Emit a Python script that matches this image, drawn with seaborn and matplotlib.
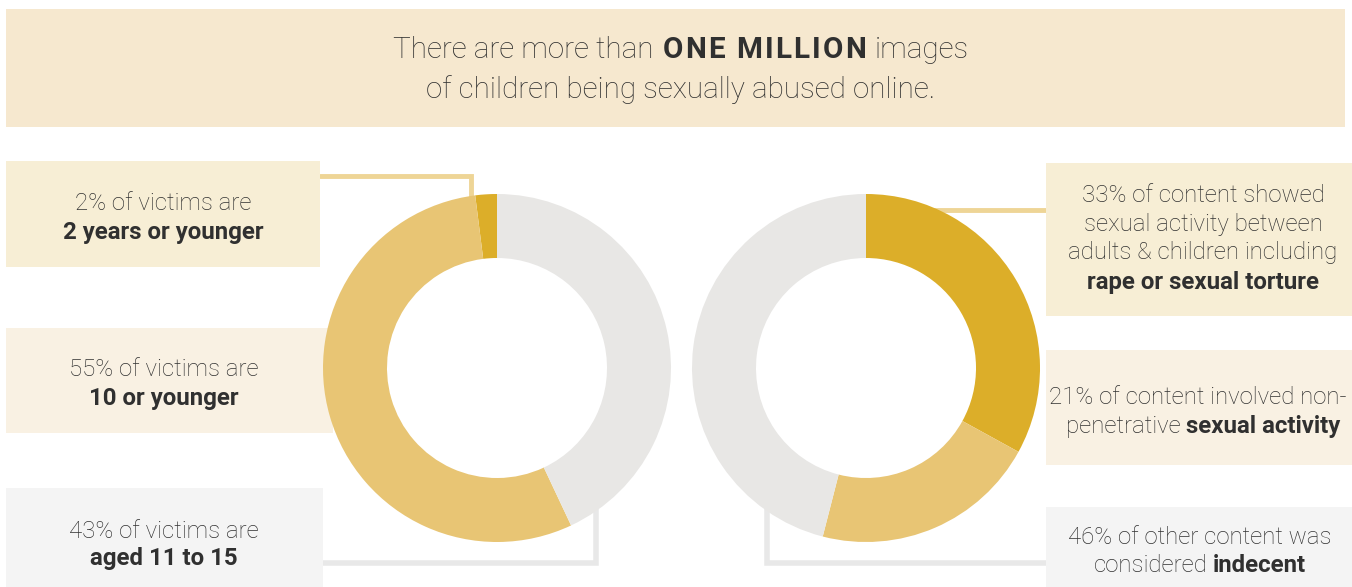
import matplotlib
matplotlib.use("Agg")
import matplotlib.pyplot as plt
import seaborn as sns
from matplotlib.patches import Rectangle

# ---- data ----
left_categories = ["2 years or younger", "10 or younger", "aged 11 to 15"]
left_values = [2, 55, 43]
right_categories = ["rape or sexual torture", "sexual activity", "indecent"]
right_values = [33, 21, 46]

sns.set_theme(style="white")
plt.rcParams['font.family'] = ['Roboto', 'DejaVu Sans']

DARK_GOLD = "#dcae29"
LIGHT_GOLD = "#e8c574"
GRAY = "#e8e7e5"
TXT = "#303030"
palette = sns.color_palette([DARK_GOLD, LIGHT_GOLD, GRAY])

W, H = 1352, 587
fig = plt.figure(figsize=(W / 100, H / 100), dpi=100)
bg = fig.add_axes([0, 0, 1, 1])
bg.set_xlim(0, W)
bg.set_ylim(H, 0)
bg.axis("off")

def rect(x0, y0, x1, y1, color):
    bg.add_patch(Rectangle((x0, y0), x1 - x0, y1 - y0, facecolor=color, edgecolor="none", zorder=1))

# banner and boxes
rect(6, 9, 1345, 127, "#f6e8cf")
rect(6, 161, 320, 267, "#f7eed5")
rect(6, 328, 333, 433, "#f9f1e3")
rect(6, 488, 323, 587, "#f4f4f4")
rect(1046, 163, 1352, 316, "#f7eed5")
rect(1046, 350, 1352, 465, "#f9f1e3")
rect(1046, 507, 1352, 587, "#f4f4f4")

# connectors
bg.plot([320, 471, 471], [176, 176, 215], color="#eed596", lw=3.5, zorder=0.5, solid_joinstyle="miter")
bg.plot([323, 596, 596], [563, 563, 500], color="#e8e8e8", lw=4, zorder=0.5, solid_joinstyle="miter")
bg.plot([900, 1046], [210, 210], color="#eed596", lw=3.5, zorder=0.5)
bg.plot([767, 767, 1046], [500, 563, 563], color="#e8e8e8", lw=4, zorder=0.5, solid_joinstyle="miter")

fig.canvas.draw()
renderer = fig.canvas.get_renderer()

def width_of(s, size, weight):
    t = bg.text(0, 0, s, fontsize=size, fontweight=weight)
    w = t.get_window_extent(renderer).width
    t.remove()
    return w

def seg_width(s, size, weight, track):
    if track == 0:
        return width_of(s, size, weight)
    return sum(width_of(c, size, weight) if c != " " else
               width_of("x x", size, weight) - width_of("xx", size, weight)
               for c in s) + track * (len(s) - 1)

def draw_seg(x, y, s, size, weight, track):
    if track == 0:
        bg.text(x, y, s, fontsize=size, fontweight=weight, color=TXT, ha="left", va="center", zorder=3)
        return
    sp = width_of("x x", size, weight) - width_of("xx", size, weight)
    for c in s:
        if c != " ":
            bg.text(x, y, c, fontsize=size, fontweight=weight, color=TXT, ha="left", va="center", zorder=3)
            x += width_of(c, size, weight) + track
        else:
            x += sp + track

def mixed_line(xc, y, segments, size, extra_gap=0):
    gap = width_of("x x", size, "light") - width_of("xx", size, "light") + extra_gap
    segs = [(s[0], s[1], s[2] if len(s) > 2 else 0) for s in segments]
    widths = [seg_width(s, size, wgt, tr) for s, wgt, tr in segs]
    total = sum(widths) + gap * (len(segs) - 1)
    x = xc - total / 2
    for (s, wgt, tr), w in zip(segs, widths):
        draw_seg(x, y, s, size, wgt, tr)
        x += w + gap

L, B = "light", "bold"
# title
mixed_line(681, 50, [("There are more than", L), ("ONE MILLION", B, 2.2), ("images", L)], 21.3, extra_gap=2)
mixed_line(681, 90, [("of children being sexually abused online.", L)], 21.3)

bs = 17.3
mixed_line(163, 203, [(f"{left_values[0]}% of victims are", L)], bs)
mixed_line(163, 232, [(left_categories[0], B)], bs)
mixed_line(164, 369, [(f"{left_values[1]}% of victims are", L)], bs)
mixed_line(164, 398, [(left_categories[1], B)], bs)
mixed_line(164, 531, [(f"{left_values[2]}% of victims are", L)], bs)
mixed_line(164, 559, [(left_categories[2], B)], bs)

mixed_line(1203, 195, [(f"{right_values[0]}% of content showed", L)], bs)
mixed_line(1203, 224, [("sexual activity between", L)], bs)
mixed_line(1203, 253, [("adults & children including", L)], bs)
mixed_line(1203, 282, [(right_categories[0], B)], bs)
mixed_line(1198, 397, [(f"{right_values[1]}% of content involved non-", L)], bs)
mixed_line(1203, 426, [("penetrative", L), (right_categories[1], B)], bs)
mixed_line(1200, 538, [(f"{right_values[2]}% of other content was", L)], bs)
mixed_line(1200, 566, [("considered", L), (right_categories[2], B)], bs)

# donuts
def donut(cx, cy, values, counterclock):
    R = 174
    ax = fig.add_axes([(cx - R) / W, (H - cy - R) / H, 2 * R / W, 2 * R / H])
    ax.pie(values, colors=palette, startangle=90, counterclock=counterclock,
           radius=1, wedgeprops=dict(width=64 / 174, edgecolor="none"))
    ax.set_xlim(-1, 1)
    ax.set_ylim(-1, 1)
    ax.set_aspect("equal")
    ax.axis("off")

donut(497, 368, left_values, True)
donut(866, 368, right_values, False)

fig.savefig("out.png", dpi=100)
